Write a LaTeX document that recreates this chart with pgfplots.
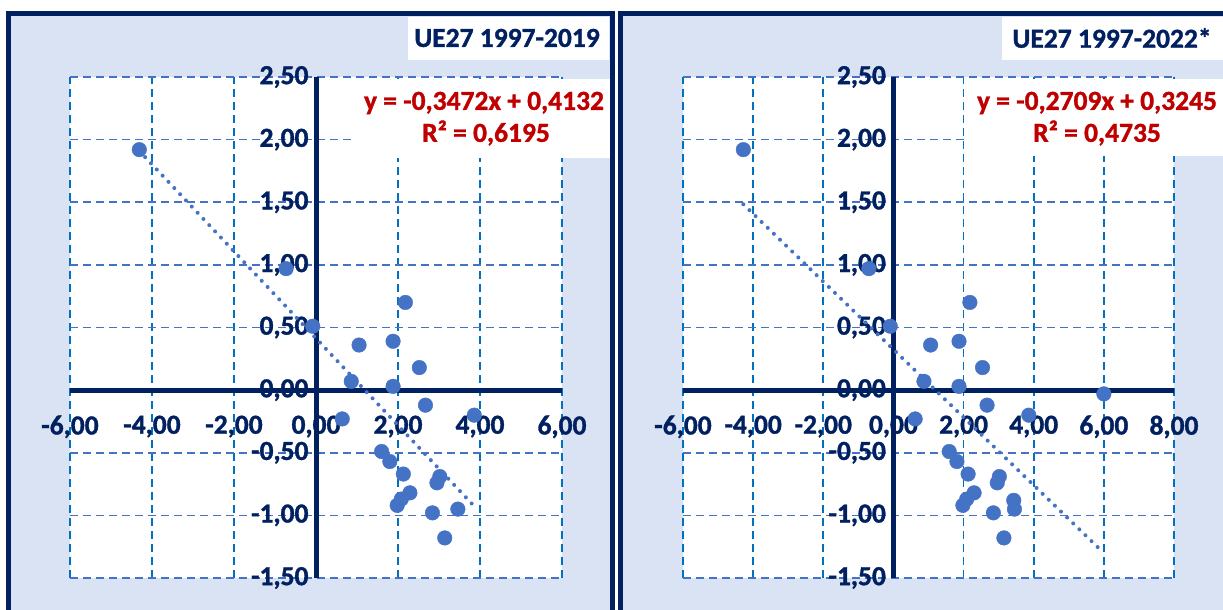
\documentclass[border=0pt]{standalone}
\usepackage{pgfplots}
\pgfplotsset{compat=1.18}
\usepackage{fontspec}
\setmainfont{Carlito}
\newfontfamily\heavy{Carlito}[BoldFeatures={FakeBold=1.2}]
\definecolor{navy}{HTML}{002060}
\definecolor{bgblue}{HTML}{DAE3F3}
\definecolor{ptblue}{HTML}{4472C4}
\definecolor{vgrid}{HTML}{0070C0}
\definecolor{eqred}{HTML}{C00000}

\pgfplotsset{
  panel/.style={
    scale only axis, height=501pt, anchor=south west,
    ymin=-1.5, ymax=2.5, ytick={-1.5,-1,-0.5,0,0.5,1,1.5,2,2.5},
    axis lines=middle,
    axis line style={draw=navy, line width=5pt, -},
    hide obscured x ticks=false, hide obscured y ticks=false,
    major tick length=0pt,
    tick style={draw=none},
    grid=major,
    major x grid style={draw=vgrid, line width=1.6pt, dash pattern=on 8pt off 5pt},
    major y grid style={draw=ptblue, line width=1.6pt, dash pattern=on 8pt off 5pt},
    axis background/.style={fill=white},
    ticklabel style={font=\heavy\fontsize{27.5}{32}\selectfont\bfseries, text=navy},
    xticklabel style={yshift=-22pt},
    yticklabel style={xshift=-4pt},
    clip=false,
    /pgf/number format/.cd, fixed, fixed zerofill, precision=2, use comma, assume math mode=true,
  },
  pts/.style={only marks, mark=*, mark size=7.3pt, mark options={fill=ptblue, draw=ptblue}},
  trend/.style={ptblue, line width=4pt, line cap=round, dash pattern=on 0pt off 8.5pt},
}

\begin{document}
\begin{tikzpicture}[x=1pt,y=1pt]
\useasboundingbox (0,0) rectangle (1223,610);
\clip (0,0) rectangle (1223,610);
\fill[white] (0,0) rectangle (1223,610);
% panels
\fill[bgblue] (8,-20) rectangle (612,596);
\draw[navy, line width=5pt] (8,-20) -- (8,596) -- (612,596) -- (612,-20);
\fill[bgblue] (620,-20) rectangle (1240,596);
\draw[navy, line width=5pt] (620,-20) -- (620,596) -- (1240,596);

% left panel
\begin{axis}[panel, at={(70pt,32pt)}, width=492pt,
  xmin=-6, xmax=6, xtick={-6,-4,-2,0,2,4,6}]
\addplot[pts] coordinates {
(-4.31,1.92) (-0.73,0.97) (-0.08,0.51) (1.05,0.36) (1.88,0.39) (2.18,0.70)
(0.86,0.07) (1.88,0.03) (2.52,0.18) (2.67,-0.12) (3.86,-0.20) (0.64,-0.23)
(1.60,-0.49) (1.80,-0.57) (2.13,-0.67) (3.02,-0.69) (2.95,-0.74) (2.29,-0.82)
(2.08,-0.87) (1.98,-0.92) (2.84,-0.98) (3.46,-0.95) (3.14,-1.18)
};
\addplot[trend] coordinates {(-4.31,1.9096) (3.87,-0.9305)};
\end{axis}

% right panel
\begin{axis}[panel, at={(683pt,32pt)}, width=491pt,
  xmin=-6, xmax=8, xtick={-6,-4,-2,0,2,4,6,8}]
\addplot[pts] coordinates {
(-4.28,1.92) (-0.70,0.97) (-0.09,0.51) (1.06,0.36) (1.87,0.39) (2.18,0.70)
(0.87,0.07) (1.87,0.03) (2.54,0.18) (2.67,-0.12) (3.86,-0.20) (0.62,-0.23)
(1.59,-0.49) (1.81,-0.57) (2.13,-0.67) (3.02,-0.69) (2.96,-0.74) (2.30,-0.82)
(2.09,-0.87) (1.98,-0.92) (2.85,-0.98) (3.45,-0.95) (3.15,-1.18)
(6.00,-0.03) (3.43,-0.88)
};
\addplot[trend] coordinates {(-4.28,1.4840) (5.99,-1.2982)};
\end{axis}

% title boxes
\fill[white] (408,550) rectangle (609,593);
\node[font=\heavy\fontsize{27.5}{33}\selectfont\bfseries, text=navy] at (507,572) {UE27 1997-2019};
\fill[white] (1002,550) rectangle (1223,593);
\node[font=\heavy\fontsize{27.5}{33}\selectfont\bfseries, text=navy] at (1112,572) {UE27 1997-2022*};

% equation boxes
\fill[white] (352,452) rectangle (610,531);
\node[font=\heavy\fontsize{27.5}{33}\selectfont\bfseries, text=eqred] at (484,507) {y = -0,3472x + 0,4132};
\node[font=\heavy\fontsize{27.5}{33}\selectfont\bfseries, text=eqred] at (486,477) {R² = 0,6195};
\fill[white] (964.5,454) rectangle (1223,531);
\node[font=\heavy\fontsize{27.5}{33}\selectfont\bfseries, text=eqred] at (1097,507) {y = -0,2709x + 0,3245};
\node[font=\heavy\fontsize{27.5}{33}\selectfont\bfseries, text=eqred] at (1097,477) {R² = 0,4735};
\end{tikzpicture}
\end{document}
